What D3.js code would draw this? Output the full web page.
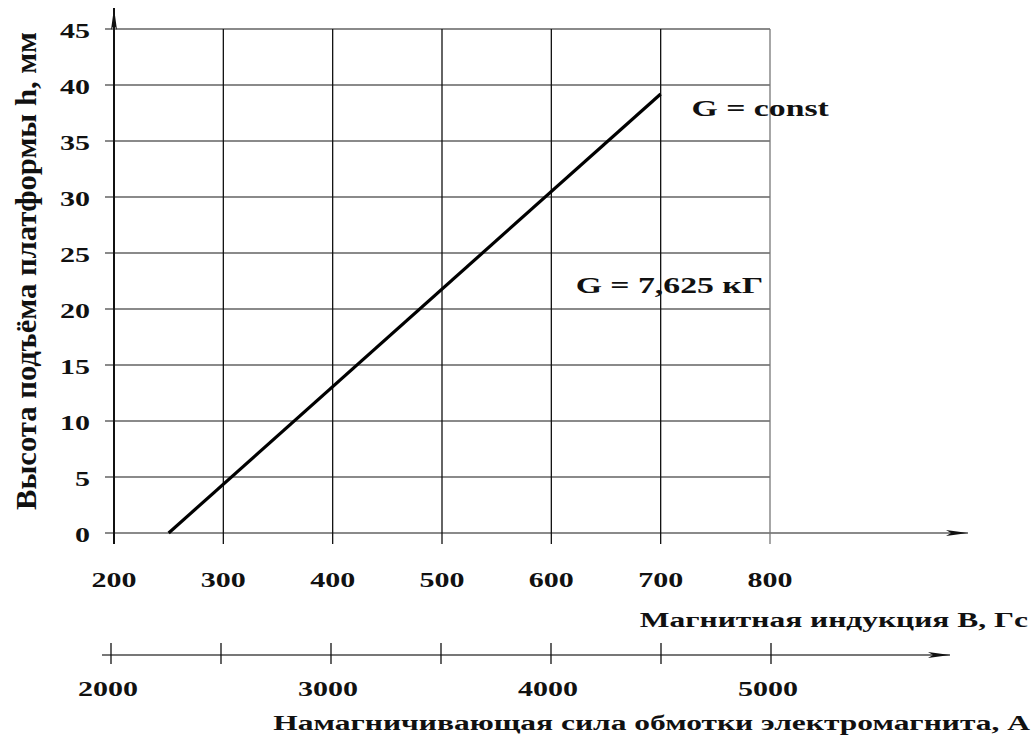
<!DOCTYPE html>
<html><head><meta charset="utf-8">
<script src="https://cdn.jsdelivr.net/npm/d3@7"></script>
<style>body{margin:0;background:#fff}svg text{font-family:"Liberation Serif","Times New Roman","DejaVu Serif",serif;font-weight:bold;fill:#111}</style>
</head><body>
<svg id="c" width="1032" height="737"></svg>
<script>
const bTicks = [200,300,400,500,600,700,800];
const hTicks = [0,5,10,15,20,25,30,35,40,45];
const fTicks = [2000,2500,3000,3500,4000,4500,5000];
const fLabels = [2000,3000,4000,5000];
const lineB = [250,700];
const lineH = [0,39.2];
const annotations = [{text:"G = const", b:791, h:37.9},{text:"G = 7,625 кГ", b:708, h:22.1}];
const titles = {y:"Высота  подъёма  платформы  h,  мм", x1:"Магнитная индукция B, Гс", x2:"Намагничивающая сила обмотки электромагнита, А"};

const SX = 1.5; // horizontal stretch of glyphs
const svg = d3.select("#c");
const x = d3.scaleLinear().domain([200,800]).range([114,770]);
const y = d3.scaleLinear().domain([0,45]).range([533,29]);
const xf = d3.scaleLinear().domain([2000,5000]).range([111,771]);

const defs = svg.append("defs");
defs.append("marker").attr("id","arr").attr("viewBox","0 0 22 8").attr("refX",22).attr("refY",4)
  .attr("markerWidth",22).attr("markerHeight",8).attr("markerUnits","userSpaceOnUse").attr("orient","auto")
  .append("path").attr("d","M0,1 L22,4 L0,7 L5,4 Z").attr("fill","#111");

function stext(g, data, fx, fy, anchor, size, fn){
  return g.selectAll("g").data(data).join("g")
    .attr("transform",d=>`translate(${fx(d)},${fy(d)}) scale(${SX},1)`)
    .append("text").attr("text-anchor",anchor).attr("dy","0.35em").attr("font-size",size).text(fn);
}

// horizontal grid
svg.append("g").selectAll("line").data(hTicks.filter(d=>d>0)).join("line")
  .attr("x1",105).attr("x2",x(800)).attr("y1",d=>y(d)).attr("y2",d=>y(d))
  .attr("stroke","#8a8a8a").attr("stroke-width",2);
// zero axis with arrow
svg.append("line").attr("x1",105).attr("x2",968).attr("y1",y(0)).attr("y2",y(0))
  .attr("stroke","#8a8a8a").attr("stroke-width",2).attr("marker-end","url(#arr)");
// vertical grid
svg.append("g").selectAll("line").data(bTicks.slice(1)).join("line")
  .attr("x1",d=>x(d)).attr("x2",d=>x(d)).attr("y1",y(45)).attr("y2",y(0)+11)
  .attr("stroke",d=>d===800?"#777":"#111").attr("stroke-width",1.3);
// y axis with arrow
svg.append("line").attr("x1",x(200)).attr("x2",x(200)).attr("y1",y(0)+11).attr("y2",8)
  .attr("stroke","#111").attr("stroke-width",2).attr("marker-end","url(#arr)");

// y tick labels
stext(svg.append("g"), hTicks, ()=>90, d=>y(d)+2, "end", 20, d=>d);
// x tick labels
stext(svg.append("g"), bTicks, d=>x(d), ()=>580, "middle", 20, d=>d);

// second axis
const y2 = 655;
svg.append("line").attr("x1",102).attr("x2",950).attr("y1",y2).attr("y2",y2)
  .attr("stroke","#777").attr("stroke-width",2).attr("marker-end","url(#arr)");
svg.append("g").selectAll("line").data(fTicks).join("line")
  .attr("x1",d=>xf(d)).attr("x2",d=>xf(d)).attr("y1",y2-12).attr("y2",y2+9)
  .attr("stroke","#111").attr("stroke-width",1.3);
stext(svg.append("g"), fLabels, d=>xf(d)-3, ()=>689, "middle", 20, d=>d);

// data line
svg.append("path").datum(lineB.map((b,i)=>[b,lineH[i]]))
  .attr("d",d3.line().x(d=>x(d[0])).y(d=>y(d[1])))
  .attr("fill","none").attr("stroke","#000").attr("stroke-width",3.2);

// annotations
stext(svg.append("g"), annotations, d=>x(d.b), d=>y(d.h), "middle", 22.5, d=>d.text);

// titles
svg.append("text").attr("transform","translate(25,271) rotate(-90) scale(1,1.45)").attr("text-anchor","middle")
  .attr("dy","0.35em").attr("font-size",21).attr("textLength",478).attr("lengthAdjust","spacingAndGlyphs").text(titles.y);
svg.append("g").attr("transform","translate(1028,620) scale(1.5,1)").append("text").attr("text-anchor","end")
  .attr("dy","0.35em").attr("font-size",21).text(titles.x1);
svg.append("g").attr("transform","translate(1030,723) scale(1.5,1)").append("text").attr("text-anchor","end")
  .attr("dy","0.35em").attr("font-size",21).text(titles.x2);
</script>
</body></html>
